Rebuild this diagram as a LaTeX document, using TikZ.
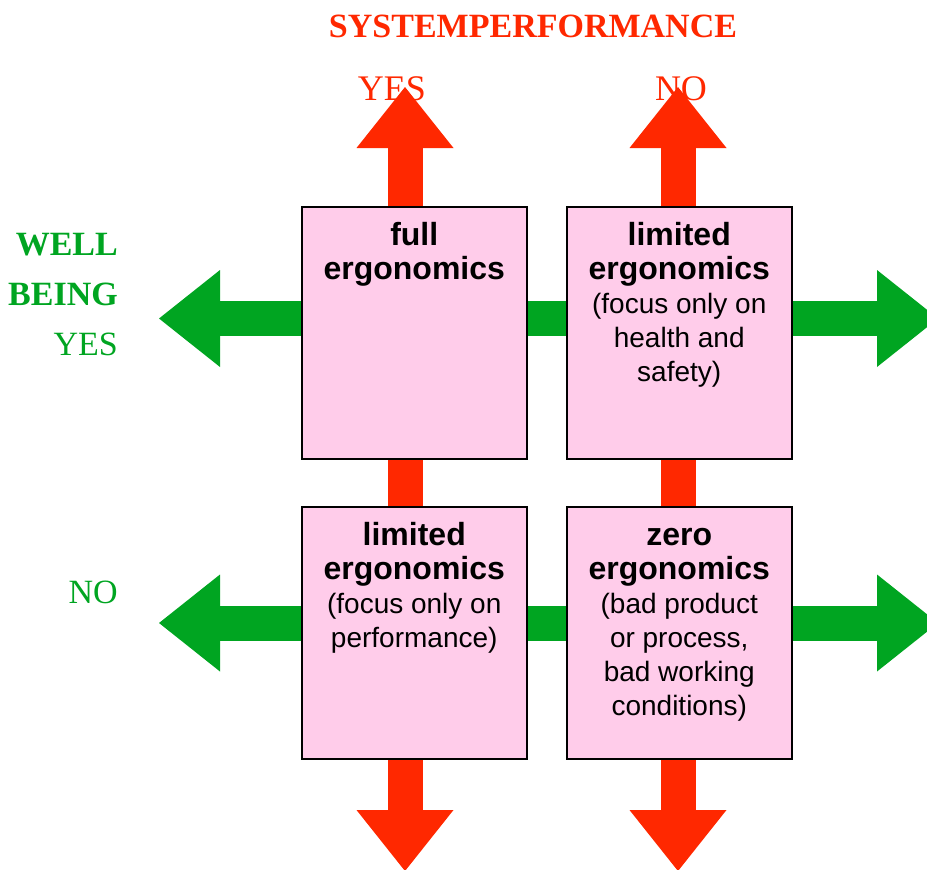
\documentclass[tikz,border=0pt]{standalone}
\usepackage{fontspec}
\setmainfont{Liberation Serif}
\newfontfamily\boxfont{Liberation Sans}
\usetikzlibrary{arrows.meta}
\definecolor{perfred}{RGB}{255,40,0}
\definecolor{wellgreen}{RGB}{0,165,33}
\definecolor{boxpink}{RGB}{255,204,234}
\newcommand\kw[1]{{\fontsize{32}{34}\selectfont\bfseries #1}}
\newcommand\firstline[1]{\rule{0pt}{#1}}
\tikzset{bigtip/.tip={Triangle[length=61pt,width=97pt,line width=0pt]}}

\begin{document}
\begin{tikzpicture}[x=1pt, y=-1pt,
    perfarrow/.style={color=perfred, line width=35pt, arrows={bigtip-bigtip}},
    wellarrow/.style={color=wellgreen, line width=35pt, arrows={bigtip-bigtip}},
    quadrant/.style={draw=black, fill=boxpink, line width=1.5pt, minimum width=225pt, minimum height=252pt, inner sep=0pt, anchor=north west},
    boxtext/.style={anchor=north, align=center, inner sep=0pt, font=\boxfont\fontsize{28}{34}\selectfont},
    perftext/.style={anchor=base, inner sep=0pt, text=perfred, font=\fontsize{36}{40}\selectfont},
    welltext/.style={anchor=north east, align=right, inner sep=0pt, text=wellgreen, font=\fontsize{34}{50}\selectfont}]
\useasboundingbox (0,0) rectangle (927,870);
\node[perftext, font=\fontsize{34}{40}\selectfont\bfseries] (title) at (533,37) {SYSTEMPERFORMANCE};
\node[perftext] (perf-yes) at (392,100) {YES};
\node[perftext] (perf-no) at (681,100) {NO};
\node[welltext] (well) at (118,229) {\firstline{26pt}\textbf{WELL}\\\textbf{BEING}\\YES};
\node[welltext] (well-no) at (118,577) {\firstline{26pt}NO};
\coordinate (yes-top) at (405,87);
\coordinate (yes-bot) at (405,871);
\coordinate (no-top) at (678,87);
\coordinate (no-bot) at (678,871);
\coordinate (wb-left) at (159,318.5);
\coordinate (wb-right) at (938,318.5);
\coordinate (nwb-left) at (159,623);
\coordinate (nwb-right) at (938,623);
\draw[perfarrow] (yes-bot) -- (yes-top);
\draw[perfarrow] (no-bot) -- (no-top);
\draw[wellarrow] (wb-right) -- (wb-left);
\draw[wellarrow] (nwb-right) -- (nwb-left);
\node[quadrant] (full) at (301,206) {};
\node[quadrant] (health) at (566,206) {};
\node[quadrant] (perf) at (301,506) {};
\node[quadrant] (zero) at (566,506) {};
\node[boxtext] (full-txt) at ([yshift=-15pt]full.north) {\firstline{24pt}\kw{full}\\\kw{ergonomics}};
\node[boxtext] (health-txt) at ([yshift=-15pt]health.north) {\firstline{24pt}\kw{limited}\\\kw{ergonomics}\\(focus only on\\health and\\safety)};
\node[boxtext] (perf-txt) at ([yshift=-15pt]perf.north) {\firstline{24pt}\kw{limited}\\\kw{ergonomics}\\(focus only on\\performance)};
\node[boxtext] (zero-txt) at ([yshift=-15pt]zero.north) {\firstline{24pt}\kw{zero}\\\kw{ergonomics}\\(bad product\\or process,\\bad working\\conditions)};
\end{tikzpicture}
\end{document}
